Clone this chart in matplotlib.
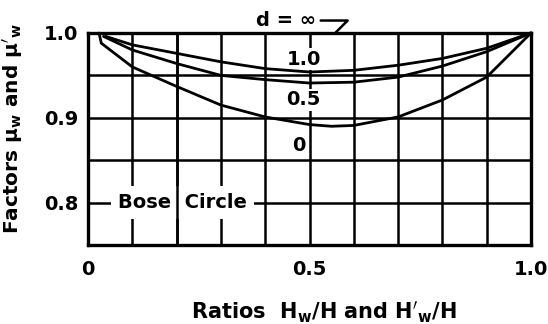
import matplotlib
matplotlib.use("Agg")
import matplotlib.pyplot as plt
from matplotlib.ticker import MultipleLocator, FixedLocator, FixedFormatter

# Factor curves for three values of d (ratio of wall height to H)
ratio_d1 = [0.04, 0.1, 0.2, 0.3, 0.4, 0.5, 0.6, 0.7, 0.8, 0.9, 1.0]
factor_d1 = [0.996, 0.986, 0.976, 0.966, 0.958, 0.954, 0.956, 0.962, 0.970, 0.982, 1.0]

ratio_d05 = [0.035, 0.1, 0.2, 0.3, 0.4, 0.5, 0.6, 0.7, 0.8, 0.9, 1.0]
factor_d05 = [0.996, 0.980, 0.964, 0.950, 0.945, 0.941, 0.942, 0.948, 0.961, 0.978, 1.0]

ratio_d0 = [0.025, 0.03, 0.1, 0.2, 0.3, 0.4, 0.5, 0.55, 0.6, 0.7, 0.8, 0.9, 1.0]
factor_d0 = [1.0, 0.988, 0.960, 0.937, 0.915, 0.901, 0.892, 0.890, 0.891, 0.901, 0.921, 0.948, 1.0]

x_tick_values = [0.0, 0.5, 1.0]
x_tick_labels = ["0", "0.5", "1.0"]
y_tick_values = [0.8, 0.9, 1.0]
y_tick_labels = ["0.8", "0.9", "1.0"]

curve_labels = ["1.0", "0.5", "0"]
curve_label_pos = [(0.487, 0.969), (0.485, 0.9215), (0.476, 0.867)]

plt.rcParams["font.family"] = ["DejaVu Sans"]
plt.rcParams["font.weight"] = "bold"
plt.rcParams["axes.labelweight"] = "bold"
plt.rcParams["mathtext.default"] = "bf"

FS = 14

fig = plt.figure(figsize=(5.48, 3.24), dpi=100)
ax = fig.add_axes([88 / 548, 1 - 245 / 324, 443 / 548, 212 / 324])

ax.set_xlim(0, 1.0)
ax.set_ylim(0.75, 1.0)

ax.xaxis.set_major_locator(FixedLocator(x_tick_values))
ax.xaxis.set_major_formatter(FixedFormatter(x_tick_labels))
ax.xaxis.set_minor_locator(MultipleLocator(0.1))
ax.yaxis.set_major_locator(FixedLocator(y_tick_values))
ax.yaxis.set_major_formatter(FixedFormatter(y_tick_labels))
ax.yaxis.set_minor_locator(MultipleLocator(0.05))

ax.tick_params(which="both", length=0)
ax.tick_params(axis="x", labelsize=FS, pad=11)
ax.tick_params(axis="y", labelsize=FS, pad=7)

ax.set_axisbelow(True)
ax.grid(which="both", color="black", linewidth=1.8)
for sp in ax.spines.values():
    sp.set_linewidth(2.4)

ink = "black"
for xs, ys in [(ratio_d1, factor_d1), (ratio_d05, factor_d05), (ratio_d0, factor_d0)]:
    ax.plot(xs, ys, color=ink, linewidth=2.0, zorder=3, clip_on=False,
            solid_joinstyle="round", solid_capstyle="round")

for lab, (lx, ly) in zip(curve_labels, curve_label_pos):
    ax.text(lx, ly, lab, ha="center", va="center", fontsize=FS, zorder=2.5,
            bbox=dict(boxstyle="square,pad=0.08", fc="white", ec="none"))

# Bose circle label sits on the 0.8 line; the 0.2 line runs through it
ax.text(0.0677, 0.80, "Bose  Circle", ha="left", va="center", fontsize=FS,
        zorder=2.5, bbox=dict(boxstyle="square,pad=0.35", fc="white", ec="none"))
ax.axvline(0.2, color="black", linewidth=1.8, zorder=2.6)

ax.annotate("d = ∞", xy=(0.558, 1.0), xytext=(0.448, 1.0147),
            ha="center", va="center", fontsize=FS, annotation_clip=False,
            arrowprops=dict(arrowstyle="-", lw=1.8, color=ink,
                            connectionstyle="angle,angleA=0,angleB=45,rad=0",
                            shrinkA=1, shrinkB=0))

ax.set_xlabel(r"Ratios  $H_w/H$ and $H'_w/H$", fontsize=15,
              ha="center", va="center")
ax.xaxis.set_label_coords(0.533, -0.318)
ax.set_ylabel(r"Factors $\mu_w$ and $\mu'_w$", fontsize=14.5,
              ha="center", va="center")
ax.yaxis.set_label_coords(-0.170, 0.547)

fig.savefig("out.png", dpi=100)
